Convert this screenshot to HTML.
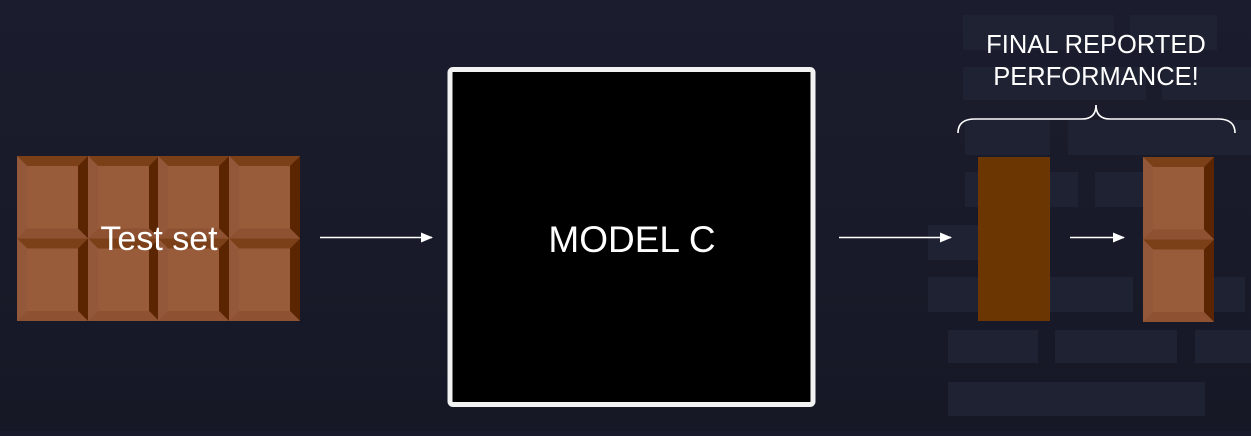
<!DOCTYPE html>
<html><head><meta charset="utf-8"><style>
html,body{margin:0;padding:0;}
body{width:1251px;height:431px;overflow:hidden;background:#191b2c;}
</style></head><body>
<svg width="1251" height="431" viewBox="0 0 1251 431" xmlns="http://www.w3.org/2000/svg">
<defs>
<linearGradient id="bg" x1="0" y1="0" x2="0" y2="1"><stop offset="0" stop-color="#1b1d2e"/><stop offset="1" stop-color="#161826"/></linearGradient>
<g id="cell">
<rect x="0" y="0" width="71" height="82.5" fill="#985c3a"/>
<polygon points="0,0 71,0 61,10 10,10" fill="#7c4019"/>
<polygon points="0,0 10,10 10,72.5 0,82.5" fill="#93573a"/>
<polygon points="71,0 71,82.5 61,72.5 61,10" fill="#5a2500"/>
<polygon points="0,82.5 10,72.5 61,72.5 71,82.5" fill="#8e5232"/>
<rect x="10" y="10" width="51" height="62.5" fill="#985c3a"/>
</g>
<marker id="ah" markerWidth="12" markerHeight="10" refX="11" refY="5" orient="auto" markerUnits="userSpaceOnUse"><polygon points="0,0 12,5 0,10" fill="#fff"/></marker>
</defs>
<rect width="1251" height="431" fill="url(#bg)"/>
<g fill="#1f2233">
<rect x="963" y="15" width="151" height="35"/>
<rect x="1130" y="15" width="87" height="35"/>
<rect x="963" y="67" width="183" height="33"/>
<rect x="1162" y="67" width="89" height="33"/>
<rect x="965" y="120" width="85" height="35"/>
<rect x="1068" y="120" width="183" height="35"/>
<rect x="965" y="172" width="113" height="35"/>
<rect x="1095" y="172" width="75" height="35"/>
<rect x="928" y="225" width="50" height="35"/>
<rect x="928" y="277" width="205" height="35"/>
<rect x="1180" y="277" width="65" height="35"/>
<rect x="948" y="330" width="90" height="33"/>
<rect x="1055" y="330" width="122" height="33"/>
<rect x="1195" y="330" width="56" height="33"/>
<rect x="948" y="382" width="257" height="34"/>
</g>
<use href="#cell" x="17" y="156"/><use href="#cell" x="88" y="156"/><use href="#cell" x="158" y="156"/><use href="#cell" x="229" y="156"/>
<use href="#cell" x="17" y="238.5"/><use href="#cell" x="88" y="238.5"/><use href="#cell" x="158" y="238.5"/><use href="#cell" x="229" y="238.5"/>
<text x="159" y="250" fill="#fff" font-family="Liberation Sans, sans-serif" font-size="34" text-anchor="middle">Test set</text>
<line x1="320" y1="237.5" x2="432" y2="237.5" stroke="#fff" stroke-width="1.6" marker-end="url(#ah)"/>
<rect x="450" y="69.5" width="363" height="335" rx="3" fill="#000" stroke="#f2f2f2" stroke-width="5"/>
<text x="632" y="252" fill="#fff" font-family="Liberation Sans, sans-serif" font-size="37" text-anchor="middle">MODEL C</text>
<line x1="839" y1="237.5" x2="951" y2="237.5" stroke="#fff" stroke-width="1.6" marker-end="url(#ah)"/>
<rect x="978" y="157" width="72" height="164" fill="#6b3601"/>
<line x1="1070" y1="237.5" x2="1124" y2="237.5" stroke="#fff" stroke-width="1.6" marker-end="url(#ah)"/>
<use href="#cell" x="1143" y="157"/><use href="#cell" x="1143" y="239.5"/>
<path d="M958,133 Q958,119 975,119 L1082,119 Q1096,119 1096,105 Q1096,119 1110,119 L1218,119 Q1235,119 1235,133" fill="none" stroke="#fff" stroke-width="1.6"/>
<text x="1096" y="53" fill="#fff" font-family="Liberation Sans, sans-serif" font-size="25.5" text-anchor="middle">FINAL REPORTED</text>
<text x="1096" y="85" fill="#fff" font-family="Liberation Sans, sans-serif" font-size="25.5" text-anchor="middle">PERFORMANCE!</text>
</svg>
</body></html>
